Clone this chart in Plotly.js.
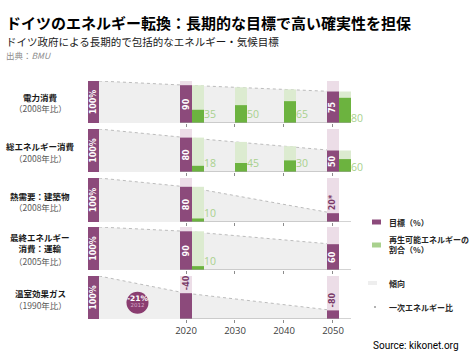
<!DOCTYPE html>
<html><head><meta charset="utf-8">
<script src="https://cdn.plot.ly/plotly-3.0.1.min.js"></script>
<style>html,body{margin:0;padding:0;background:#fff;}#chart{width:472px;height:352px;}</style>
</head><body><div id="chart"></div>
<script>
// ---------- DATA ----------
const rowTitles = ['電力消費','総エネルギー消費','熱需要：建築物','最終エネルギー<br>消費：運輸','温室効果ガス'];
const rowBases = ['（2008年比）','（2008年比）','（2008年比）','（2005年比）','（1990年比）'];
const baseValue = 100;
const targetYears = [2020, 2050];
const target2020 = [90, 80, 80, 90, 60];
const target2050 = [75, 50, 20, 60, 20];
const targetLabel2020 = ['90','80','80','90','-40'];
const targetLabel2050 = ['75','50','20*','60','-80'];
const renewYears = [2020, 2030, 2040, 2050];
const renewTotal = [[90,85,80,75],[80,70,60,50],[80,null,null,null],[90,null,null,null],[null,null,null,null]];
const renewShare = [[35,50,65,80],[18,30,45,60],[10,null,null,null],[10,null,null,null],[null,null,null,null]];
const renewLabel = [['35','50','65','80'],['18','45','30','60'],['10','','',''],['10','','',''],['','','','']];
const tickYears = [2020, 2030, 2040, 2050];
const ghgYear = 2012;
const ghgChange = -21;

// ---------- STYLE / LAYOUT CONSTANTS ----------
const W = 472, H = 352;
const PURPLE = '#8c4a7b', PINK = '#ecdde7', DKPURPLE = '#7a3a69';
const GREEN = '#6cb33f', LTGREEN = '#dcebd0', LBLGREEN = '#a9d18e';
const xPx = [88, 352];
const xRange = [2000, 2053.88];
const ppy = (xPx[1]-xPx[0])/(xRange[1]-xRange[0]);
const baseW = 11/ppy, tgtW = 12/ppy, grW = 12/ppy;
const rowPx = [[81,123],[129,172],[178,222],[227,270],[276,319]];
const titlePx = [[96.5,108],[146,157.5],[195.5,207],[242.5,261],[293,304.5]];
const FONT = 'Noto Sans CJK JP';
const px = v => v/W, py = v => 1 - v/H;

const data = [];
const layout = {
  width: W, height: H, margin: {l:0,r:0,t:0,b:0},
  paper_bgcolor: '#fff', plot_bgcolor: 'rgba(0,0,0,0)',
  barmode: 'overlay', showlegend: false,
  font: {family: FONT, color: '#262626'},
  annotations: [], shapes: []
};

for (let i = 0; i < 5; i++) {
  const xa = i === 0 ? 'x' : 'x' + (i+1);
  const ya = 'y' + (i+1);
  const yo = 'y' + (i+6);
  const xk = i === 0 ? 'xaxis' : 'xaxis' + (i+1);
  layout[xk] = {
    domain: [px(xPx[0]), px(xPx[1])], range: xRange, anchor: ya,
    showgrid: false, zeroline: false, showline: false,
    tickmode: 'array', tickvals: tickYears, ticktext: tickYears.map(String),
    ticks: 'outside', ticklen: 3, tickcolor: '#8c8c8c', tickwidth: 1,
    showticklabels: i === 4,
    tickfont: {family: 'Open Sans', size: 9.5, color: '#404040'},
    fixedrange: true
  };
  layout['yaxis' + (i+1)] = {
    domain: [py(rowPx[i][1]), py(rowPx[i][0])], range: [0, 100], anchor: xa,
    showgrid: false, zeroline: false, showline: false, showticklabels: false, ticks: '', fixedrange: true
  };
  layout['yaxis' + (i+6)] = {
    overlaying: ya, range: [0, 100], anchor: xa,
    showgrid: false, zeroline: false, showline: false, showticklabels: false, ticks: '', fixedrange: true
  };

  const tv = [target2020[i], target2050[i]];
  const tl = [targetLabel2020[i], targetLabel2050[i]];
  // trend area
  data.push({type:'scatter', mode:'lines', xaxis:xa, yaxis:ya,
    x:[xRange[0]+baseW, targetYears[0], targetYears[1]], y:[baseValue, tv[0], tv[1]],
    fill:'tozeroy', fillcolor:'#efefef', line:{color:'#bcbcbc', width:1, dash:'dot'}, hoverinfo:'skip'});
  // base bar
  data.push({type:'bar', xaxis:xa, yaxis:yo, x:[xRange[0]+baseW/2], y:[baseValue], width:[baseW],
    marker:{color:PURPLE, line:{width:0}}, text:['100%'], textposition:'inside', insidetextanchor:'middle',
    textangle:-90, constraintext:'none',
    textfont:{family:'DejaVu Sans', size:8, color:'#fff', weight:'bold'}, hoverinfo:'skip'});
  // pink background bars
  data.push({type:'bar', xaxis:xa, yaxis:yo, x:targetYears, y:[baseValue, baseValue], width:[tgtW,tgtW],
    marker:{color:PINK, line:{width:0}}, hoverinfo:'skip'});
  // target bars
  const outside = tv.map((v,k) => tl[k].startsWith('-') || v < 30);
  data.push({type:'bar', xaxis:xa, yaxis:yo, x:targetYears, y:tv, width:[tgtW,tgtW],
    marker:{color:PURPLE, line:{width:0}}, text:tl,
    textposition: outside.map(o => o ? 'outside' : 'inside'), insidetextanchor:'middle',
    textangle:-90, constraintext:'none', cliponaxis:false,
    textfont:{family:'DejaVu Sans', size:8, weight:'bold', color: outside.map(o => o ? DKPURPLE : '#fff')},
    hoverinfo:'skip'});
  // renewables
  const gx = renewYears.map(y => targetYears.includes(y) ? y + tgtW/2 + grW/2 : y + grW/2);
  if (renewTotal[i].some(v => v !== null)) {
    data.push({type:'bar', xaxis:xa, yaxis:yo, x:gx, y:renewTotal[i], width:gx.map(()=>grW),
      marker:{color:LTGREEN, line:{width:0}}, hoverinfo:'skip'});
    data.push({type:'bar', xaxis:xa, yaxis:yo, x:gx,
      y:renewShare[i].map((s,k) => s === null ? null : s*renewTotal[i][k]/100), width:gx.map(()=>grW),
      marker:{color:GREEN, line:{width:0}}, hoverinfo:'skip'});
    data.push({type:'scatter', mode:'text', xaxis:xa, yaxis:yo,
      x:gx.map(g => g + grW/2), y:renewYears.map(y => y === 2050 ? 8 : 17),
      text:renewLabel[i], textposition:'middle right',
      textfont:{family:'Open Sans', size:10.5, color:LBLGREEN}, hoverinfo:'skip', cliponaxis:false});
  }
  // baseline
  layout.shapes.push({type:'line', xref:xa, yref:ya, x0:tickYears[0]-tgtW/2, x1:tickYears[3]+tgtW/2+grW,
    y0:0, y1:0, line:{color:'#a6a6a6', width:1}, layer:'above'});
  // row labels
  layout.annotations.push({xref:'paper', yref:'paper', x:px(40), y:py(titlePx[i][0]), xanchor:'center', yanchor:'middle',
    text:'<b>'+rowTitles[i]+'</b>', showarrow:false, align:'center', font:{size:8.5, color:'#1a1a1a', family:FONT}});
  layout.annotations.push({xref:'paper', yref:'paper', x:px(40), y:py(titlePx[i][1]), xanchor:'center', yanchor:'middle',
    text:rowBases[i], showarrow:false, font:{size:8.5, color:'#595959', family:FONT}});
}

// 2012 GHG badge (row 5)
const badgeX = 2010.1, badgeY = 38;
data.push({type:'scatter', mode:'markers', xaxis:'x5', yaxis:'y10', x:[badgeX], y:[badgeY],
  marker:{size:22, color:'#8a3d70', line:{width:0}}, hoverinfo:'skip'});
data.push({type:'scatter', mode:'text', xaxis:'x5', yaxis:'y10', x:[badgeX, badgeX], y:[badgeY+9, badgeY-7],
  text:['<b>' + ghgChange + '%</b>', String(ghgYear)], textposition:'middle center',
  textfont:{family:'DejaVu Sans', size:[7.5, 5.5], color:['#ffffff','#d7a9c8']}, hoverinfo:'skip'});

// titles
layout.annotations.push({xref:'paper', yref:'paper', x:px(4), y:py(23), xanchor:'left', yanchor:'middle', showarrow:false,
  text:'<b>ドイツのエネルギー転換：長期的な目標で高い確実性を担保</b>', font:{size:15, color:'#000', family:FONT}});
layout.annotations.push({xref:'paper', yref:'paper', x:px(4), y:py(41.5), xanchor:'left', yanchor:'middle', showarrow:false,
  text:'ドイツ政府による長期的で包括的なエネルギー・気候目標', font:{size:10.5, color:'#1a1a1a', family:FONT}});
layout.annotations.push({xref:'paper', yref:'paper', x:px(4), y:py(55), xanchor:'left', yanchor:'middle', showarrow:false,
  text:'出典：<i>BMU</i>', font:{size:8.5, color:'#8c8c8c', family:FONT}});

// legend
const legX = 387;
layout.shapes.push({type:'rect', xref:'paper', yref:'paper', x0:px(372), x1:px(381), y0:py(224.5), y1:py(219.5), fillcolor:PURPLE, line:{width:0}});
layout.shapes.push({type:'rect', xref:'paper', yref:'paper', x0:px(372), x1:px(381), y0:py(247.5), y1:py(242.5), fillcolor:LBLGREEN, line:{width:0}});
layout.shapes.push({type:'rect', xref:'paper', yref:'paper', x0:px(368), x1:px(377), y0:py(285), y1:py(281), fillcolor:'#eeeeee', line:{width:0}});
layout.shapes.push({type:'circle', xref:'paper', yref:'paper', x0:px(374), x1:px(376), y0:py(308), y1:py(306), fillcolor:'#999', line:{width:0}});
const legItems = [['目標（%）',222],['再生可能エネルギーの<br>割合（%）',244],['傾向',283],['一次エネルギー比',307]];
legItems.forEach(([t,y]) => layout.annotations.push({xref:'paper', yref:'paper', x:px(legX), y:py(y), xanchor:'left', yanchor:'middle',
  showarrow:false, align:'left', text:'<b>'+t+'</b>', font:{size:8, color:'#262626', family:FONT}}));
layout.annotations.push({xref:'paper', yref:'paper', x:px(461), y:py(345), xanchor:'right', yanchor:'middle', showarrow:false,
  text:'Source: kikonet.org', font:{size:10, color:'#000', family:'Roboto'}});

Plotly.newPlot('chart', data, layout, {displayModeBar:false, staticPlot:true});
</script></body></html>
